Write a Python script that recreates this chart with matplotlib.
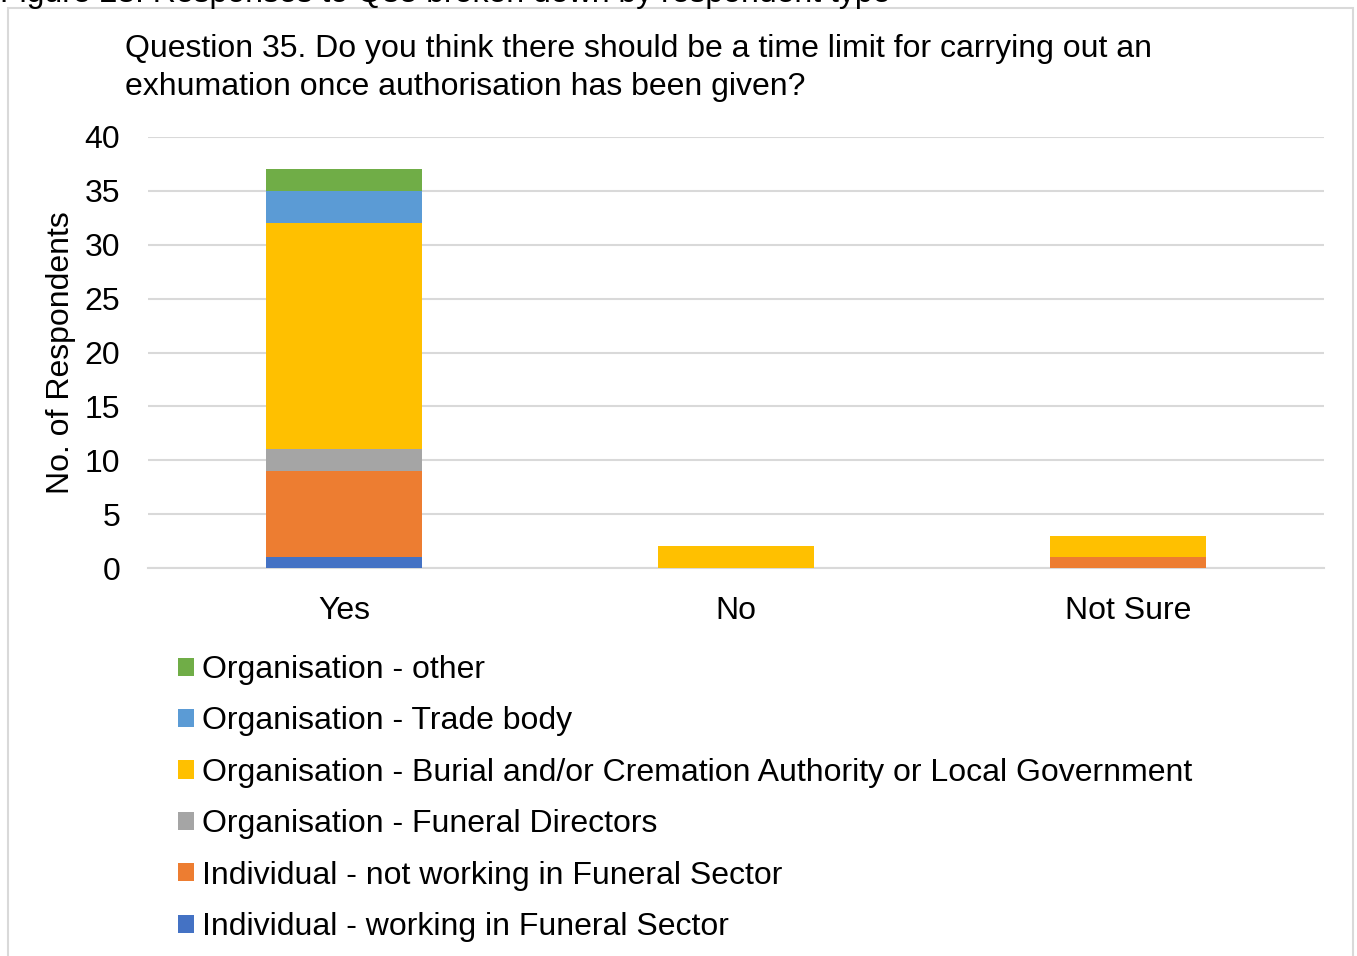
import matplotlib.pyplot as plt
from matplotlib.patches import Rectangle, Patch
import numpy as np

plt.rcParams['font.family'] = ['Liberation Sans', 'DejaVu Sans']

# answers and respondent groups (stacked bottom -> top)
answers = ['Yes', 'No', 'Not Sure']
groups = [
    'Individual - working in Funeral Sector',
    'Individual - not working in Funeral Sector',
    'Organisation - Funeral Directors',
    'Organisation - Burial and/or Cremation Authority or Local Government',
    'Organisation - Trade body',
    'Organisation - other',
]
ind_working = [1, 0, 0]
ind_not_working = [8, 0, 1]
funeral_directors = [2, 0, 0]
burial_cremation = [21, 2, 2]
trade_body = [3, 0, 0]
org_other = [2, 0, 0]

colors = ['#4472C4', '#ED7D31', '#A5A5A5', '#FFC000', '#5B9BD5', '#70AD47']
y_ticks = [0, 5, 10, 15, 20, 25, 30, 35, 40]

series = [ind_working, ind_not_working, funeral_directors,
          burial_cremation, trade_body, org_other]

W, H = 1357, 956
fig = plt.figure(figsize=(W / 100, H / 100), dpi=100)

# chart frame
fig.patches.append(Rectangle((8 / W, -0.01), (1353 - 8) / W, 1 - 8 / H + 0.01,
                             transform=fig.transFigure, fill=False,
                             edgecolor='#D9D9D9', linewidth=1.5))

# caption sitting just above the frame (mostly cut off)
fig.text(0.0, 1 - 2 / H, 'Figure 23: Responses to Q35 broken down by respondent type',
         fontsize=23, va='baseline', ha='left', color='black')

ax = fig.add_axes([148 / W, 1 - 568 / H, (1324 - 148) / W, (568 - 137) / H])

x = np.arange(len(answers))
bottom = np.zeros(len(answers))
handles = []
for name, vals, c in zip(groups, series, colors):
    ax.bar(x, vals, 0.4, bottom=bottom, color=c, zorder=3)
    bottom += np.array(vals)
    handles.append(Patch(facecolor=c, label=name))

ax.set_xlim(-0.5, 2.5)
ax.set_ylim(0, 40)
ax.set_yticks(y_ticks)
ax.set_xticks(x)
ax.set_xticklabels(answers)
ax.tick_params(axis='both', length=0, labelsize=23)
ax.tick_params(axis='x', pad=20)
ax.tick_params(axis='y', pad=20)
ax.grid(axis='y', color='#D9D9D9', linewidth=1.5, zorder=0)
for s in ['top', 'right', 'left']:
    ax.spines[s].set_visible(False)
ax.spines['bottom'].set_color('#D9D9D9')
ax.spines['bottom'].set_linewidth(1.5)
ax.set_ylabel('No. of Respondents', fontsize=23, labelpad=6)

fig.text(125 / W, 1 - 34 / H,
         'Question 35. Do you think there should be a time limit for carrying out an\n'
         'exhumation once authorisation has been given?',
         fontsize=23, va='top', ha='left', linespacing=1.35)

fig.legend(handles[::-1], [h.get_label() for h in handles[::-1]],
           loc='upper left', bbox_to_anchor=(178 / W, 1 - 655 / H),
           frameon=False, fontsize=23, handlelength=0.5, handleheight=0.5,
           handletextpad=0.25, labelspacing=0.67, borderaxespad=0, borderpad=0)

fig.savefig('out.png', dpi=100)
